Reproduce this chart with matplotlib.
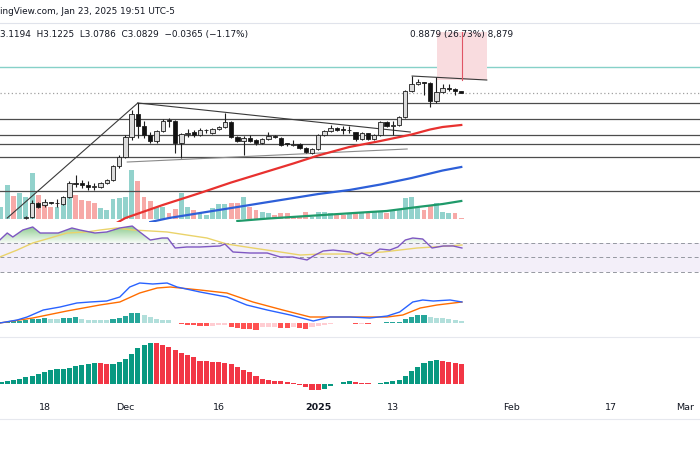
import numpy as np
import matplotlib
matplotlib.use("Agg")
import matplotlib.pyplot as plt
from matplotlib.colors import LinearSegmentedColormap
from matplotlib.lines import Line2D
from matplotlib.path import Path

# ---------------- data ----------------
start_date = np.datetime64("2024-11-11")

# daily candles (first candle = day 4 -> 2024-11-15)
candle_start = 4
c_open = [0.775, 0.789, 1.048, 1.011, 1.05, 1.045, 1.029, 1.159, 1.418, 1.418,
          1.381, 1.344, 1.344, 1.418, 1.473, 1.732, 1.899, 2.269, 2.694, 2.472,
          2.306, 2.195, 2.38, 2.565, 2.565, 2.158, 2.33, 2.361, 2.306, 2.39,
          2.343, 2.417, 2.454, 2.546, 2.269, 2.195, 2.25, 2.213, 2.158, 2.232,
          2.287, 2.25, 2.139, 2.13, 2.139, 2.065, 1.973, 2.047, 2.306, 2.38,
          2.435, 2.40, 2.39, 2.361, 2.232, 2.343, 2.232, 2.306, 2.546, 2.48,
          2.491, 2.639, 3.12, 3.249, 3.286, 3.268, 2.935, 3.101, 3.16, 3.157,
          3.1194]
c_high = [0.81, 1.103, 1.07, 1.122, 1.06, 1.12, 1.17, 1.455, 1.566, 1.473,
          1.455, 1.418, 1.44, 1.50, 1.76, 1.93, 2.306, 2.768, 2.898, 2.565,
          2.36, 2.40, 2.60, 2.62, 2.58, 2.34, 2.417, 2.40, 2.43, 2.42,
          2.44, 2.48, 2.713, 2.56, 2.28, 2.29, 2.306, 2.23, 2.25, 2.361,
          2.30, 2.26, 2.16, 2.213, 2.15, 2.08, 2.07, 2.32, 2.40, 2.49,
          2.45, 2.47, 2.47, 2.37, 2.36, 2.35, 2.32, 2.56, 2.56, 2.565,
          2.66, 3.14, 3.397, 3.342, 3.29, 3.28, 3.379, 3.249, 3.249, 3.17,
          3.1225]
c_low = [0.76, 0.771, 0.95, 0.974, 1.035, 0.97, 1.02, 1.14, 1.344, 1.325,
         1.288, 1.288, 1.33, 1.40, 1.45, 1.70, 1.88, 2.213, 2.250, 2.25,
         2.158, 2.15, 2.36, 2.454, 1.973, 1.880, 2.269, 2.27, 2.28, 2.35,
         2.32, 2.40, 2.43, 2.25, 2.17, 1.936, 2.17, 2.13, 2.14, 2.22,
         2.25, 2.10, 2.11, 2.11, 2.05, 1.97, 1.96, 2.03, 2.29, 2.36,
         2.38, 2.32, 2.34, 2.20, 2.21, 2.21, 2.22, 2.29, 2.46, 2.306,
         2.47, 2.62, 3.10, 3.23, 3.046, 2.824, 2.898, 3.08, 3.12, 3.046,
         3.0786]
c_close = [0.79, 1.048, 0.974, 1.066, 1.045, 1.05, 1.159, 1.418, 1.40, 1.381,
           1.344, 1.35, 1.418, 1.473, 1.732, 1.899, 2.269, 2.694, 2.472, 2.306,
           2.195, 2.380, 2.565, 2.56, 2.158, 2.324, 2.343, 2.306, 2.398, 2.38,
           2.417, 2.454, 2.546, 2.269, 2.195, 2.250, 2.195, 2.158, 2.232, 2.287,
           2.269, 2.121, 2.13, 2.139, 2.065, 1.991, 2.047, 2.306, 2.380, 2.435,
           2.398, 2.39, 2.40, 2.232, 2.343, 2.232, 2.306, 2.546, 2.472, 2.491,
           2.639, 3.120, 3.249, 3.286, 3.268, 2.935, 3.101, 3.175, 3.157, 3.1194,
           3.0829]

# volume (billions), day 0 .. 74, and bar direction (1 = up)
volume = [1.2, 3.4, 2.3, 2.6, 2.2, 4.6, 2.4, 1.6, 1.2, 1.2,
          2.2, 2.9, 2.4, 1.9, 1.8, 1.6, 1.1, 0.9, 2.0, 2.1,
          2.2, 4.9, 3.8, 2.2, 1.8, 1.2, 1.2, 0.6, 1.0, 2.6,
          1.2, 0.9, 0.6, 0.4, 1.1, 1.5, 1.5, 1.6, 1.6, 2.2,
          1.2, 0.9, 0.7, 0.6, 0.4, 0.6, 0.6, 0.2, 0.2, 0.7,
          0.2, 0.7, 0.7, 0.6, 0.4, 0.4, 0.5, 0.7, 0.7, 0.6,
          0.7, 0.7, 0.6, 0.9, 0.9, 2.1, 2.2, 1.1, 0.9, 1.4,
          1.6, 0.7, 0.6, 0.6, 0.1]
vol_up = [1, 1, 0, 1, 1, 1, 0, 0, 0, 1,
          1, 1, 0, 0, 0, 0, 1, 1, 1, 1,
          1, 1, 0, 0, 0, 1, 1, 0, 0, 1,
          1, 0, 1, 1, 1, 1, 1, 0, 0, 1,
          0, 0, 1, 1, 0, 0, 0, 0, 0, 0,
          1, 1, 1, 1, 0, 0, 1, 0, 1, 0,
          1, 1, 0, 1, 1, 1, 1, 1, 0, 0,
          1, 1, 1, 0, 0]

# moving averages on price (day, value)
ma_red_day = [18, 20, 26, 32, 37, 42, 47, 51, 56, 61, 66, 69, 71, 74]
ma_red_val = [0.641, 0.770, 1.011, 1.233, 1.427, 1.603, 1.779, 1.927, 2.084,
              2.195, 2.315, 2.408, 2.454, 2.491]
ma_blue_day = [24, 27, 32, 37, 42, 47, 51, 56, 61, 66, 71, 74]
ma_blue_val = [0.696, 0.770, 0.863, 0.955, 1.048, 1.140, 1.214, 1.288, 1.390,
               1.510, 1.649, 1.714]
ma_green_day = [38, 43, 48, 53, 58, 62, 67, 71, 74]
ma_green_val = [0.715, 0.761, 0.798, 0.835, 0.872, 0.900, 0.974, 1.029, 1.085]

# drawings on the price pane
hlines_price = [2.593, 2.297, 2.139, 1.908, 1.279]
resist_price, resist_from = 2.898, 22
teal_level = 3.564
last_close = 3.0829
trend_lines = [((1.0, 0.770), (22.0, 2.898)),
               ((22.0, 2.898), (65.8, 2.361)),
               ((66.1, 3.397), (78.1, 3.323))]
lower_wedge = ((20.3, 1.806), (65.3, 2.047))
measure_x = (70.1, 78.1)
measure_y = (3.3218, 4.2097)
measure_label = "0.8879 (26.73%) 8,879"

# RSI
rsi_day = [-0.2, 1.0, 1.9, 3.5, 5.1, 6.3, 7.9, 9.2, 11.4, 12.7, 15.1, 17.0, 19.1,
           21.1, 21.9, 24.0, 25.9, 26.8, 28.0, 29.9, 32.0, 35.2, 36.0, 37.3,
           40.0, 42.8, 44.9, 46.9, 49.2, 50.5, 51.8, 53.4, 56.1, 57.2, 58.0,
           59.3, 60.9, 62.5, 63.8, 65.0, 66.2, 67.8, 69.3, 71.1, 72.7, 74.1]
rsi_val = [74.1, 83.8, 78.3, 87.9, 92.1, 83.8, 83.8, 83.8, 90.7, 87.9, 83.8, 85.2,
           90.7, 93.4, 87.9, 74.1, 76.9, 76.9, 63.1, 64.5, 64.5, 65.9, 68.6, 57.6,
           56.2, 56.2, 50.7, 50.7, 46.6, 53.4, 59.0, 60.3, 57.6, 53.4, 56.2, 52.1,
           61.7, 60.3, 64.5, 74.1, 76.9, 75.5, 63.1, 65.9, 65.9, 63.1]
rsi_ma_day = [-0.2, 2.6, 5.1, 7.9, 10.6, 13.8, 15.9, 18.6, 21.2, 24.0, 26.7, 29.9,
              33.1, 36.3, 40.5, 44.9, 48.1, 51.3, 56.1, 61.4, 66.9, 69.5, 74.1]
rsi_ma_val = [50.7, 60.3, 70.0, 76.9, 83.8, 85.2, 87.9, 90.7, 87.9, 86.6, 85.2, 81.0,
              76.9, 68.6, 63.1, 57.6, 53.4, 54.8, 54.8, 57.6, 63.1, 64.5, 67.2]

# MACD
macd_day = [-0.2, 2.6, 4.2, 6.8, 9.5, 12.2, 14.3, 17.0, 19.1, 20.7, 22.3, 24.4,
            26.7, 28.3, 32.0, 36.3, 39.5, 42.8, 46.5, 50.2, 52.9, 56.1, 59.3,
            62.1, 64.1, 66.2, 67.8, 69.5, 72.2, 74.1]
macd_val = [0.0, 0.015, 0.030, 0.065, 0.080, 0.100, 0.105, 0.110, 0.130, 0.180,
            0.200, 0.195, 0.200, 0.180, 0.155, 0.130, 0.090, 0.065, 0.040, 0.010,
            0.030, 0.030, 0.025, 0.035, 0.055, 0.105, 0.115, 0.110, 0.115, 0.105]
signal_day = [-0.2, 5.1, 10.6, 15.9, 19.1, 22.3, 25.1, 27.2, 32.0, 36.3, 40.5,
              45.3, 49.7, 52.9, 57.7, 62.1, 64.6, 67.4, 70.1, 74.1]
signal_val = [0.0, 0.025, 0.060, 0.090, 0.105, 0.150, 0.175, 0.180, 0.165, 0.150,
              0.105, 0.065, 0.030, 0.030, 0.030, 0.030, 0.040, 0.075, 0.090, 0.105]
macd_hist = [0.005, 0.0075, 0.01, 0.0125, 0.015, 0.02, 0.0225, 0.025, 0.0225, 0.02,
             0.025, 0.0275, 0.03, 0.02, 0.0175, 0.0175, 0.015, 0.015, 0.02, 0.025,
             0.035, 0.05, 0.0525, 0.0425, 0.03, 0.0225, 0.0175, 0.015, 0.0025, -0.005,
             -0.0075, -0.01, -0.0125, -0.015, -0.015, -0.01, -0.01, -0.02, -0.025, -0.0275,
             -0.03, -0.0325, -0.02, -0.0175, -0.0175, -0.025, -0.026, -0.02, -0.025, -0.0275,
             -0.02, -0.0125, -0.0075, -0.0025, 0.0015, 0.0015, -0.0015, -0.004, -0.0025, -0.004,
             -0.0015, 0.0025, 0.004, 0.005, 0.0075, 0.02, 0.03, 0.04, 0.0425, 0.03,
             0.0275, 0.025, 0.02, 0.015, 0.01]

# momentum oscillator (bottom pane)
momentum = [1.7, 2.7, 3.7, 5, 6.7, 8.3, 10.3, 12, 13.7, 15,
            15, 16, 17.7, 19, 20.3, 21.3, 21, 20, 20.3, 22,
            25.3, 30.3, 36, 39.3, 41.5, 41, 39.3, 37, 33.7, 31,
            29.3, 27, 23.3, 22.7, 22.5, 22, 21, 20, 17, 14.3,
            11.7, 7.7, 5.3, 3.7, 3.5, 2.7, 1.7, 0.7, -1.3, -3,
            -5.5, -5.8, -4.7, -2.3, 0.2, 1.7, 2.7, 2, 1.3, 1,
            0.3, 1, 2, 2.7, 4.3, 7.7, 12.7, 17, 21, 23.3,
            23.7, 23.3, 22.3, 21, 20]

# time axis
tick_dates = ["2024-11-18", "2024-12-01", "2024-12-16", "2025-01-01",
              "2025-01-13", "2025-02-01", "2025-02-17", "2025-03-01"]
tick_labels = ["18", "Dec", "16", "2025", "13", "Feb", "17", "Mar"]

header_1 = "ingView.com, Jan 23, 2025 19:51 UTC-5"
header_2 = "3.1194  H3.1225  L3.0786  C3.0829  \u22120.0365 (\u22121.17%)"

# ---------------- layout ----------------
W, H = 700, 450
XMIN, XMAX = -0.161, 112.38
fig = plt.figure(figsize=(7, 4.5), dpi=100)
fig.patch.set_facecolor("white")
TXT = "#131722"


def pane(top, bottom):
    ax = fig.add_axes([0, 1 - bottom / H, 1, (bottom - top) / H])
    ax.set_axis_off()
    ax.set_xlim(XMIN, XMAX)
    return ax


def hline_fig(y, color, lw=0.8):
    fig.add_artist(Line2D([0, 1], [1 - y / H] * 2, color=color, lw=lw))


# header
fig.text(0.0, 1 - 12 / H, header_1, fontsize=6.4, color=TXT, va="center", ha="left")
hline_fig(23, "#e0e3eb")
fig.text(0.0, 1 - 34 / H, header_2, fontsize=6.4, color=TXT, va="center", ha="left")

# ---- volume (behind price) ----
axv = pane(23, 222)
axv.set_ylim(-0.3, 19.6)
days_all = np.arange(len(volume))
vcols = ["#92d2cc" if u else "#f7a9a7" for u in vol_up]
axv.bar(days_all, volume, width=0.78, color=vcols, linewidth=0)

# ---- price ----
axp = pane(23, 222)
axp.set_ylim(0.6964, 4.3779)
axp.patch.set_visible(False)

for lv in hlines_price:
    axp.axhline(lv, color="#4d4d4d", lw=0.9, zorder=1)
axp.plot([resist_from, XMAX], [resist_price, resist_price], color="#4d4d4d", lw=0.9, zorder=1)
axp.axhline(teal_level, color="#86d1c8", lw=1.0, zorder=1)
axp.axhline(last_close, color="#a0a0a0", lw=0.9, ls=(0, (1, 2)), zorder=1)
for (x0, y0), (x1, y1) in trend_lines:
    axp.plot([x0, x1], [y0, y1], color="#3a3a3a", lw=0.8, zorder=2)
axp.plot([lower_wedge[0][0], lower_wedge[1][0]], [lower_wedge[0][1], lower_wedge[1][1]],
         color="#8a8a8a", lw=0.8, zorder=2)

axp.plot(ma_red_day, ma_red_val, color="#e8312f", lw=1.6, zorder=2)
axp.plot(ma_blue_day, ma_blue_val, color="#2d5fd8", lw=1.6, zorder=2)
axp.plot(ma_green_day, ma_green_val, color="#1f9a6a", lw=1.6, zorder=2)

# measure box
axp.fill_between(measure_x, measure_y[0], measure_y[1], color="#f9dcdf", lw=0, zorder=1)
mx = (measure_x[0] + measure_x[1]) / 2
axp.plot([mx, mx], measure_y, color="#e05565", lw=0.8, zorder=2)
axp.text(mx, 4.1741, measure_label, fontsize=6.4, color=TXT, ha="center", va="center", zorder=5)

# candles
cd = np.arange(candle_start, candle_start + len(c_open))
o, h, l, c = map(np.array, (c_open, c_high, c_low, c_close))
axp.vlines(cd, l, h, color="#1e1e1e", lw=0.8, zorder=3)
up = c >= o
body = np.where(np.abs(c - o) < 0.012, 0.012, c - o)
axp.bar(cd, body, bottom=o, width=0.7,
        color=np.where(up, "#dcdcdc", "#111111"), edgecolor="#1e1e1e", linewidth=0.6, zorder=4)

# ---- RSI ----
axr = pane(222, 276)
axr.set_ylim(24.48, 98.97)
axr.axhspan(30, 70, color="#7e57c2", alpha=0.09, lw=0)
for lv in (70, 50, 30):
    axr.axhline(lv, color="#9598a1", lw=0.7, ls=(0, (4, 3)))
rd = np.array(rsi_day)
rv = np.array(rsi_val)
poly = axr.fill_between(rd, rv, 70, where=rv >= 70, interpolate=True, color="none", lw=0)
paths = poly.get_paths()
if paths:
    comp = Path.make_compound_path(*paths)
    cmap = LinearSegmentedColormap.from_list(
        "g", [(0.30, 0.69, 0.31, 0.05), (0.30, 0.69, 0.31, 0.85)])
    grad = np.linspace(0, 1, 256).reshape(-1, 1)
    im = axr.imshow(grad, extent=[XMIN, XMAX, 70, 100], origin="lower",
                    cmap=cmap, aspect="auto", zorder=1)
    im.set_clip_path(comp, transform=axr.transData)
axr.plot(rsi_ma_day, rsi_ma_val, color="#ead36a", lw=1.0, zorder=2)
axr.plot(rd, rv, color="#7e57c2", lw=1.0, zorder=3)
axr.set_xlim(XMIN, XMAX)
axr.set_ylim(24.48, 98.97)

# ---- MACD ----
axm = pane(276, 337)
axm.set_ylim(-0.07, 0.235)
hist = np.array(macd_hist)
hcols = []
for i, v in enumerate(hist):
    prev = hist[i - 1] if i > 0 else 0
    if v >= 0:
        hcols.append("#26a69a" if v > prev else "#b2dfdb")
    else:
        hcols.append("#ff5252" if v < prev else "#ffcdd2")
axm.bar(days_all, hist, width=0.82, color=hcols, lw=0)
axm.plot(signal_day, signal_val, color="#ff6d00", lw=1.0)
axm.plot(macd_day, macd_val, color="#2962ff", lw=1.0)
hline_fig(337, "#e6e8ee")

# ---- momentum ----
axo = pane(337, 397)
axo.set_ylim(-13, 47)
mom = np.array(momentum)
ocols = ["#089981" if (i == 0 or v >= mom[i - 1]) else "#f23645" for i, v in enumerate(mom)]
axo.bar(days_all, mom, width=0.82, color=ocols, lw=0)

# ---- time axis ----
axt = pane(397, 419)
axt.set_ylim(0, 1)
for d, lab in zip(tick_dates, tick_labels):
    x = (np.datetime64(d) - start_date).astype(int)
    axt.text(x, 0.5, lab, fontsize=6.8, color=TXT, ha="center", va="center",
             fontweight="bold" if lab.isdigit() and len(lab) == 4 else "normal")
hline_fig(419, "#e6e8ee")

fig.savefig("out.png", dpi=100, facecolor="white")
